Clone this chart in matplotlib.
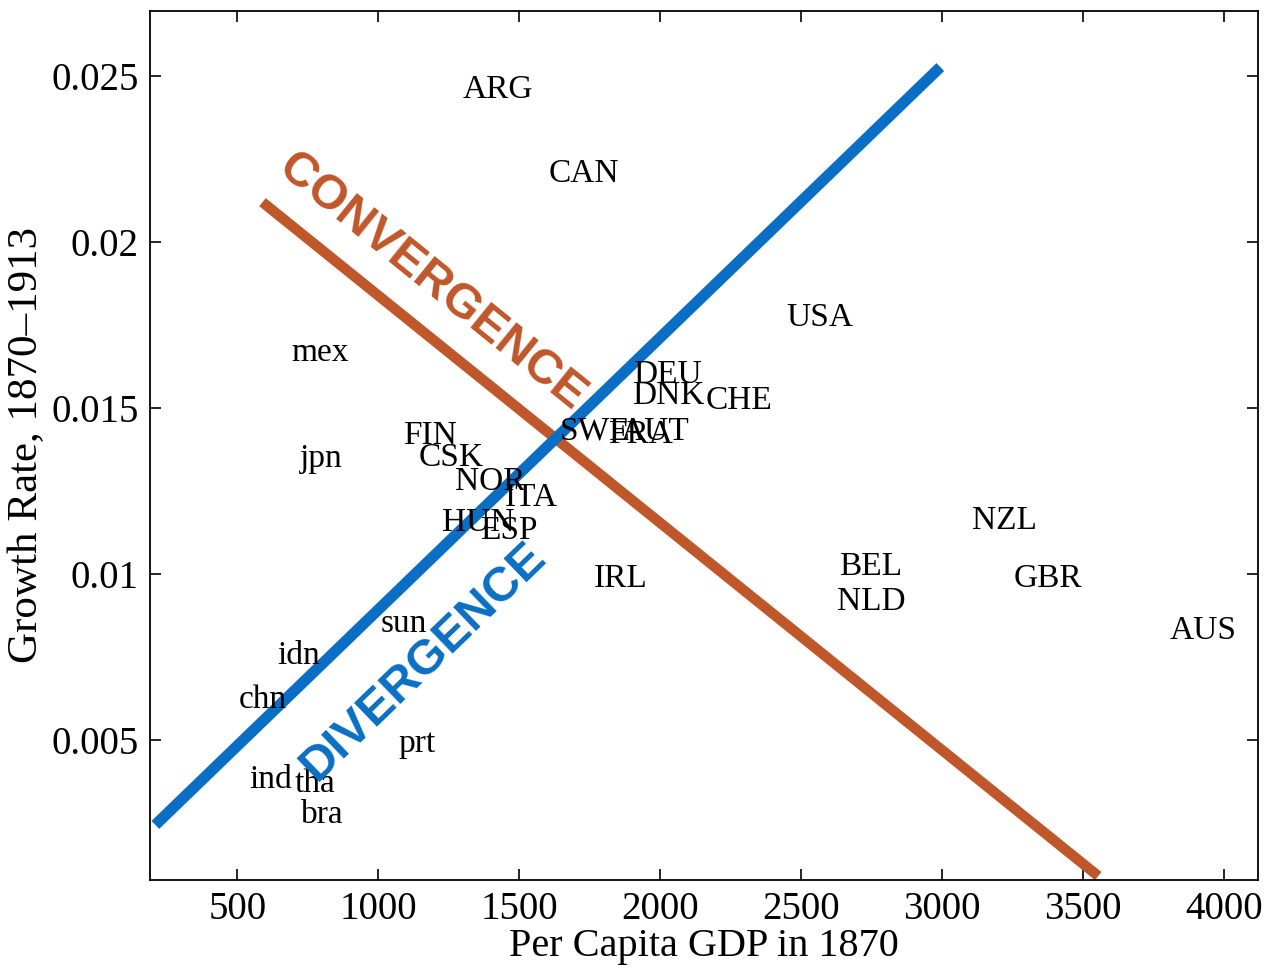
import matplotlib
matplotlib.use("Agg")
import matplotlib.pyplot as plt

# countries: per capita GDP 1870, growth rate 1870-1913
codes = ["ARG", "CAN", "USA", "mex", "DEU", "DNK", "CHE", "SWE", "FRA", "AUT",
         "FIN", "CSK", "jpn", "NOR", "ITA", "HUN", "ESP", "IRL", "NZL", "BEL",
         "NLD", "GBR", "AUS", "sun", "idn", "chn", "prt", "ind", "tha", "bra"]
gdp = [1425, 1730, 2564, 794, 2025, 2028, 2280, 1770, 1929, 1982,
       1184, 1259, 798, 1397, 1543, 1355, 1461, 1858, 3220, 2745,
       2748, 3376, 3926, 1092, 716, 589, 1138, 617, 777, 801]
growth = [0.0247, 0.02217, 0.01783, 0.01678, 0.01611, 0.01548, 0.01533, 0.0144, 0.0143, 0.0144,
          0.01428, 0.01361, 0.01358, 0.01289, 0.01241, 0.01166, 0.01142, 0.00997, 0.01172, 0.01033,
          0.00928, 0.00997, 0.0084, 0.00861, 0.00765, 0.00633, 0.005, 0.00392, 0.0038, 0.00286]

# annotation arrows (start, end)
div_x = [209, 2993]
div_y = [0.00244, 0.02527]
conv_x = [589, 3553]
conv_y = [0.0212, 0.0009]

serif = "Liberation Serif"
fig = plt.figure(figsize=(12.7, 9.71), dpi=100)
ax = fig.add_axes([0.1181, 0.0937, 0.8725, 0.895])

for c, x, y in zip(codes, gdp, growth):
    ax.text(x, y, c, ha="center", va="center_baseline", fontsize=24, family=serif)

ax.plot(conv_x, conv_y, color="#c0572b", linewidth=7.5, solid_capstyle="butt")
ax.plot(div_x, div_y, color="#0a6fc4", linewidth=8, solid_capstyle="butt")

ax.text(1190, 0.01878, "CONVERGENCE", rotation=-39, color="#c0572b", fontsize=35,
        fontweight="bold", family="Liberation Sans", ha="center", va="center",
        rotation_mode="anchor")
ax.text(1160, 0.00735, "DIVERGENCE", rotation=44, color="#0a6fc4", fontsize=35,
        fontweight="bold", family="Liberation Sans", ha="center", va="center",
        rotation_mode="anchor")

ax.set_xlim(190, 4120)
ax.set_ylim(0.00078, 0.02696)
ax.set_xticks([500, 1000, 1500, 2000, 2500, 3000, 3500, 4000])
ax.set_yticks([0.005, 0.01, 0.015, 0.02, 0.025])
ax.set_yticklabels(["0.005", "0.01", "0.015", "0.02", "0.025"])
ax.tick_params(direction="in", top=True, right=True, length=8, width=1.2,
               labelsize=28, pad=8)
for lab in ax.get_xticklabels() + ax.get_yticklabels():
    lab.set_family(serif)
for s in ax.spines.values():
    s.set_linewidth(1.3)

ax.set_xlabel("Per Capita GDP in 1870", fontsize=29, family=serif, labelpad=0)
ax.set_ylabel("Growth Rate, 1870\u20131913", fontsize=31, family=serif, labelpad=4)

fig.savefig("out.png", dpi=100)
